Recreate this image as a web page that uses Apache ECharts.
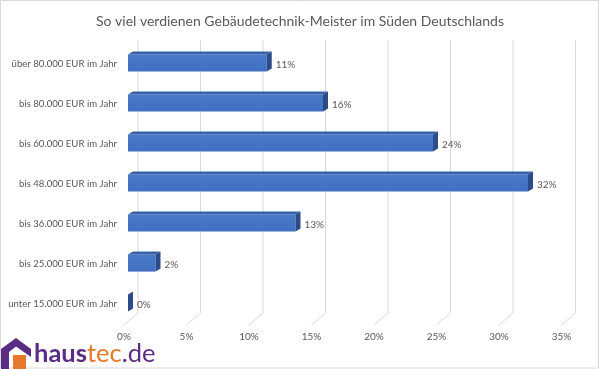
<!DOCTYPE html>
<html>
<head>
<meta charset="utf-8">
<script src="https://cdn.jsdelivr.net/npm/echarts@6/dist/echarts.min.js"></script>
<style>html,body{margin:0;padding:0;background:#fff}#c{width:600px;height:369px}</style>
</head>
<body>
<div id="c"></div>
<script>
const titleText = 'So viel verdienen Gebäudetechnik-Meister im Süden Deutschlands';
const categories = ['über 80.000 EUR im Jahr','bis 80.000 EUR im Jahr','bis 60.000 EUR im Jahr','bis 48.000 EUR im Jahr','bis 36.000 EUR im Jahr','bis 25.000 EUR im Jahr','unter 15.000 EUR im Jahr'];
const values = [11.1, 15.6, 24.4, 32.0, 13.4, 2.2, 0];
const ticks = [0, 5, 10, 15, 20, 25, 30, 35];

const FONT = 'Lato';
const chart = echarts.init(document.getElementById('c'), null, {renderer: 'canvas'});

const barData = values.map((v, i) => [v, i]);
const gridData = ticks.map(t => [t, 0]);

chart.setOption({
  animation: false,
  backgroundColor: '#fff',
  title: {
    text: titleText, left: 'center', top: 9,
    textStyle: {fontFamily: FONT, fontSize: 14, fontWeight: 'normal', color: '#595959'}
  },
  grid: {left: 128, right: 34.5, top: 43.5, height: 280, containLabel: false},
  xAxis: {
    type: 'value', min: 0, max: 35, interval: 5,
    axisLine: {show: false}, axisTick: {show: false}, splitLine: {show: false},
    axisLabel: {formatter: '{value}%', margin: 8, padding: [0, 8, 0, 0], fontFamily: FONT, fontSize: 10, color: '#595959'}
  },
  yAxis: {
    type: 'category', data: categories, inverse: true,
    axisLine: {show: false}, axisTick: {show: false}, splitLine: {show: false},
    axisLabel: {margin: 11, padding: [8, 0, 0, 0], fontFamily: FONT, fontSize: 9.6, color: '#595959'}
  },
  series: [
    {
      type: 'custom', z: 1, silent: true, clip: false,
      data: gridData,
      encode: {x: 0, y: 1},
      renderItem: function (params, api) {
        const cs = params.coordSys;
        const x = api.coord([api.value(0), 0])[0];
        const bottom = cs.y + cs.height;
        return {
          type: 'polyline',
          shape: {points: [[x + 10, cs.y - 3.5], [x + 10, bottom - 10.5], [x - 4, bottom + 1.5]]},
          style: {stroke: '#D9D9D9', lineWidth: 1, fill: null}
        };
      }
    },
    {
      type: 'custom', z: 3, clip: false,
      data: barData,
      encode: {x: 0, y: 1},
      renderItem: function (params, api) {
        const v = api.value(0);
        const c = api.value(1);
        const p0 = api.coord([0, c]);
        const p1 = api.coord([v, c]);
        const band = api.size([0, 1])[1];
        const h = band * 0.43;
        const dx = 5, dy = 3;
        const cy = p0[1] - 0.5;
        const y0 = cy - h / 2, y1 = cy + h / 2;
        const x0 = p0[0], x1 = p1[0];
        return {
          type: 'group',
          children: [
            {type: 'rect', shape: {x: x0, y: y0, width: x1 - x0, height: h},
             style: {fill: new echarts.graphic.LinearGradient(0, 0, 0, 1, [{offset: 0, color: '#4A78C8'}, {offset: 1, color: '#4270C0'}])}},
            {type: 'polygon', shape: {points: [[x0, y0], [x0 + dx, y0 - dy], [x1 + dx, y0 - dy], [x1, y0]]},
             style: {fill: '#3762AA'}},
            {type: 'polygon', shape: {points: [[x1, y0], [x1 + dx, y0 - dy], [x1 + dx, y1 - dy], [x1, y1]]},
             style: {fill: '#2B4C88'}},
            {type: 'text', style: {text: Math.round(v) + '%', x: x1 + dx + 4, y: cy + 1.5,
              verticalAlign: 'middle', align: 'left', fontFamily: FONT, fontSize: 10, fill: '#595959'}}
          ]
        };
      }
    }
  ],
  graphic: [
    {type: 'rect', shape: {x: 0.5, y: 0.5, width: 598, height: 367.5}, style: {fill: null, stroke: '#D9D9D9', lineWidth: 1}, z: 0, silent: true},
    {type: 'polygon', shape: {points: [[1, 369], [1, 349], [16, 338], [31, 349], [31, 357], [16, 346.5], [9, 352], [9, 369]]}, style: {fill: '#5B2C83'}, z: 10},
    {type: 'rect', shape: {x: 13, y: 355, width: 13, height: 14}, style: {fill: '#E8782A'}, z: 10},
    {type: 'text', x: 34, y: 367, z: 10, style: {
      text: '{a|haus}{b|tec}{c|.de}', verticalAlign: 'bottom',
      rich: {
        a: {fontFamily: FONT, fontSize: 25.5, fontWeight: 'bold', fill: '#5B2C83'},
        b: {fontFamily: FONT, fontSize: 25.5, fontWeight: 'normal', fill: '#E8782A'},
        c: {fontFamily: FONT, fontSize: 25.5, fontWeight: 'normal', fill: '#5B2C83'}
      }
    }}
  ]
});
</script>
</body>
</html>
